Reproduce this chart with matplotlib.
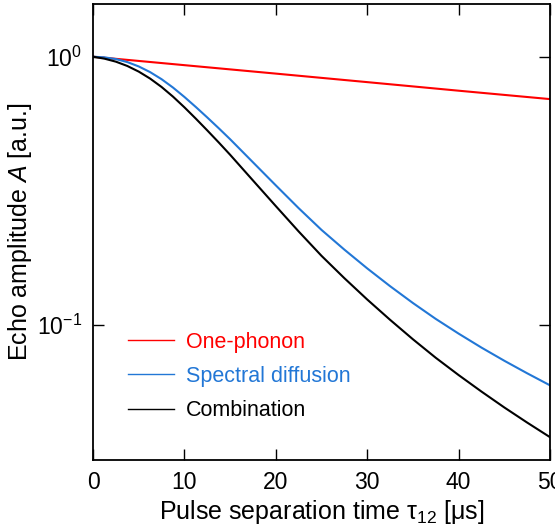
import matplotlib
matplotlib.use("Agg")
import matplotlib.pyplot as plt
from matplotlib.ticker import FixedLocator, NullLocator, LogFormatterSciNotation

plt.rcParams['font.family'] = ['Liberation Sans', 'DejaVu Sans']
plt.rcParams['mathtext.fontset'] = 'custom'
plt.rcParams['mathtext.rm'] = 'Liberation Sans'
plt.rcParams['mathtext.it'] = 'Liberation Sans:italic'
plt.rcParams['mathtext.bf'] = 'Liberation Sans:bold'
plt.rcParams['axes.unicode_minus'] = False

# pulse separation time tau_12 [us]
tau = [0, 1.25, 2.5, 3.75, 5, 6.25, 7.5, 8.75, 10, 11.25, 12.5, 13.75, 15,
       17.5, 20, 22.5, 25, 27.5, 30, 32.5, 35, 37.5, 40, 42.5, 45, 47.5, 50]

# echo amplitudes
spectral = [1.000, 0.9943, 0.9799, 0.9550, 0.9199, 0.8760, 0.8245, 0.7674, 0.7079,
            0.6494, 0.5937, 0.5415, 0.4926, 0.4041, 0.3315, 0.2726, 0.2262, 0.1910,
            0.1626, 0.1396, 0.1208, 0.1054, 0.0929, 0.0824, 0.0736, 0.0661, 0.0596]
combined = [1.000, 0.9833, 0.9583, 0.9236, 0.8800, 0.8287, 0.7712, 0.7099, 0.6477,
            0.5876, 0.5313, 0.4793, 0.4311, 0.3458, 0.2775, 0.2232, 0.1811, 0.1495,
            0.1245, 0.1046, 0.0885, 0.0755, 0.0651, 0.0565, 0.0493, 0.0433, 0.0382]

tau_1ph = [0, 10, 20, 30, 40, 50]
one_phonon = [1.000, 0.930, 0.865, 0.804, 0.747, 0.695]

labels = ['One-phonon', 'Spectral diffusion', 'Combination']
colors = ['#ff0000', '#2277d6', '#000000']

fig = plt.figure(figsize=(5.55, 5.32), dpi=100)
ax = fig.add_axes([0.1676, 0.1353, 0.8234, 0.8572])

ax.plot(tau_1ph, one_phonon, color=colors[0], lw=1.5, label=labels[0])
ax.plot(tau, spectral, color=colors[1], lw=1.5, label=labels[1])
ax.plot(tau, combined, color=colors[2], lw=1.5, label=labels[2])

ax.set_yscale('log')
ax.set_xlim(0, 50)
ax.set_ylim(0.0314, 1.572)

ax.set_xticks([0, 10, 20, 30, 40, 50])
ax.yaxis.set_major_locator(FixedLocator([0.1, 1.0]))
ax.yaxis.set_major_formatter(LogFormatterSciNotation())
ax.yaxis.set_minor_locator(NullLocator())

ax.tick_params(which='both', direction='in', top=True, right=True,
               length=8, width=1, labelsize=16.5, pad=8)
for s in ax.spines.values():
    s.set_linewidth(1.3)

ax.set_xlabel('Pulse separation time τ$_{12}$ [μs]', fontsize=18, labelpad=3)
ax.set_ylabel('Echo amplitude $A$ [a.u.]', fontsize=18, labelpad=2)

leg = ax.legend(loc='lower left', bbox_to_anchor=(0.0766, 0.085), frameon=False,
                fontsize=15.5, labelcolor='linecolor', handlelength=2.15,
                handletextpad=0.55, labelspacing=0.62, borderpad=0,
                borderaxespad=0)
for h in leg.get_lines():
    h.set_linewidth(1.0)

fig.savefig('out.png', dpi=100)
